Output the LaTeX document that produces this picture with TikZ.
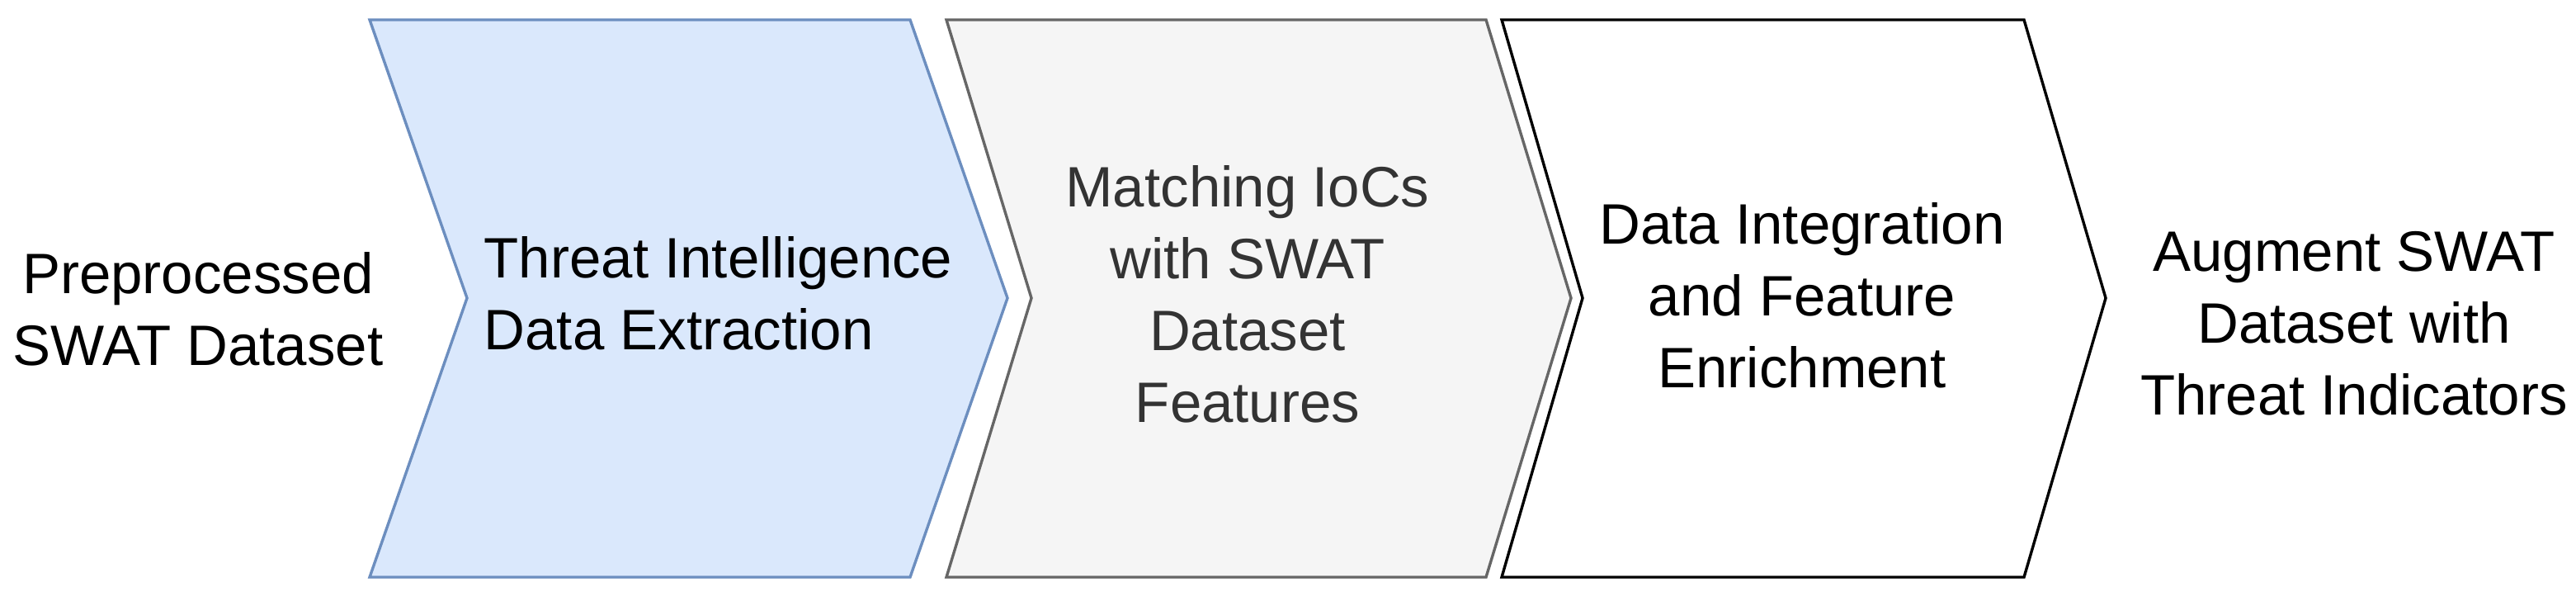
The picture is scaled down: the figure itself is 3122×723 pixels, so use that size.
\documentclass[tikz,border=0pt]{standalone}
\usepackage{fontspec}
\setmainfont{Liberation Sans}
\definecolor{blueFill}{HTML}{DAE8FC}
\definecolor{blueLine}{HTML}{6C8EBF}
\definecolor{grayFill}{HTML}{F5F5F5}
\definecolor{grayLine}{HTML}{666666}
\definecolor{grayText}{HTML}{333333}
\begin{document}
\begin{tikzpicture}[x=0.25pt,y=-0.25pt,line join=miter,
  lbl/.style={inner sep=0pt,anchor=north,align=center,font=\fontsize{17.25pt}{21.75pt}\selectfont},
  chev/.style={line width=0.85pt}]
\useasboundingbox (0,0) rectangle (3122,723);
% chevrons
\draw[chev,fill=blueFill,draw=blueLine] (448,24) -- (1103,24) -- (1221,361) -- (1103,699) -- (448,699) -- (566,361) -- cycle;
\draw[chev,fill=grayFill,draw=grayLine] (1147,24) -- (1801,24) -- (1904,361) -- (1801,699) -- (1147,699) -- (1250,361) -- cycle;
\draw[chev,fill=white,draw=black] (1820,24) -- (2453,24) -- (2552,361) -- (2453,699) -- (1820,699) -- (1918,361) -- cycle;
% texts
\node[lbl] (input) at (240,305) {Preprocessed\\SWAT Dataset};
\node[lbl,anchor=north west,align=left] (s1) at (586,286) {Threat Intelligence\\Data Extraction};
\node[lbl,text=grayText] (s2) at (1512,200) {Matching IoCs\\with SWAT\\Dataset\\Features};
\node[lbl] (s3) at (2184,245) {Data Integration\\and Feature\\Enrichment};
\node[lbl] (output) at (2853,280) {Augment SWAT\\Dataset with\\Threat Indicators};
\end{tikzpicture}
\end{document}
